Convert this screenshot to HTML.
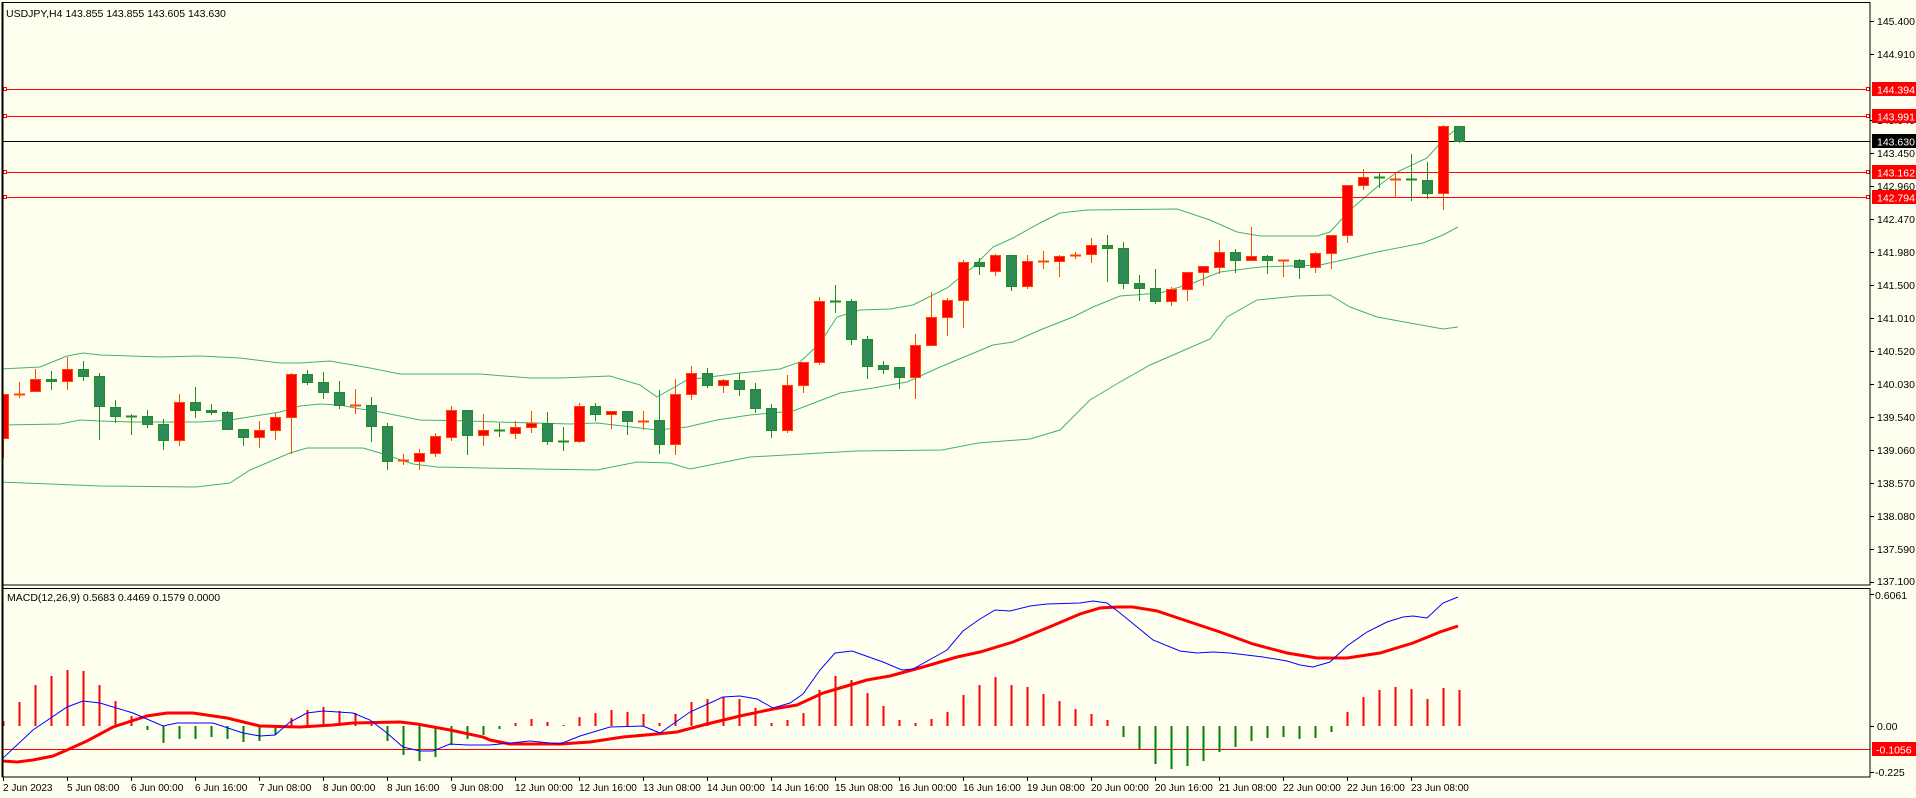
<!DOCTYPE html>
<html><head><meta charset="utf-8"><style>
html,body{margin:0;padding:0;background:#FFFFF0;}
svg{display:block;font-family:"Liberation Sans","DejaVu Sans",sans-serif;font-size:11px;}
.ax{font-size:10.5px;}
.tm{font-size:10px;}
</style></head><body>
<svg id="s" width="1916" height="798" viewBox="0 0 1916 798" xmlns="http://www.w3.org/2000/svg">
<rect x="0" y="0" width="1916" height="798" fill="#FFFFF0"/>
<defs><clipPath id="cm"><rect x="3" y="3" width="1867" height="582"/></clipPath>
<clipPath id="cd"><rect x="3" y="589" width="1867" height="188"/></clipPath></defs>
<g id="main" clip-path="url(#cm)">
<polyline fill="none" stroke="#3CB371" stroke-width="1" points="0,369 40,367 67,356 83,353 100,355 160,357 200,356 240,358 280,363 300,363 330,361 370,368 400,374 480,374 530,378 560,378 610,376 640,385 657,397 687,380 740,373 780,369 800,362 820,343 837,317 860,310 890,309 913,305 947,288 973,267 993,247 1013,238 1040,223 1060,213 1087,210 1177,209 1210,220 1237,232 1260,236 1317,236 1330,232 1350,210 1377,187 1397,172 1427,158 1443,140 1460,126"/>
<polyline fill="none" stroke="#3CB371" stroke-width="1" points="0,425 60,424 80,420 100,421 130,422 200,422 230,420 280,412 300,406 320,404 340,405 360,409 370,410 420,420 470,421 497,422 570,424 597,423 657,430 687,427 717,420 750,415 793,411 840,393 873,388 907,382 940,367 993,345 1013,342 1040,330 1073,317 1093,307 1120,296 1160,293 1193,283 1220,272 1260,267 1320,265 1343,260 1377,252 1423,243 1443,235 1458,227"/>
<polyline fill="none" stroke="#3CB371" stroke-width="1" points="0,482 100,486 196,487 230,483 250,470 290,453 307,448 363,448 380,453 413,464 437,467 537,469 597,470 637,462 670,463 690,469 750,457 856,451 942,450 978,443 1030,439 1060,430 1090,400 1120,382 1150,365 1180,352 1210,339 1227,317 1257,300 1297,296 1330,295 1350,307 1377,317 1410,323 1443,329 1458,327"/>
</g>
<g stroke-width="1" fill="none">
<line x1="3" y1="89.5" x2="1870" y2="89.5" stroke="#FF0000"/>
<line x1="3" y1="116.5" x2="1870" y2="116.5" stroke="#FF0000"/>
<line x1="3" y1="141.5" x2="1870" y2="141.5" stroke="#000"/>
<line x1="3" y1="172.5" x2="1870" y2="172.5" stroke="#FF0000"/>
<line x1="3" y1="197.5" x2="1870" y2="197.5" stroke="#FF0000"/>
<rect x="3.5" y="87.5" width="3" height="3" stroke="#FF0000" fill="#FFFFF0"/>
<rect x="3.5" y="114.5" width="3" height="3" stroke="#FF0000" fill="#FFFFF0"/>
<rect x="3.5" y="170.5" width="3" height="3" stroke="#FF0000" fill="#FFFFF0"/>
<rect x="3.5" y="195.5" width="3" height="3" stroke="#FF0000" fill="#FFFFF0"/>
<rect x="1866.5" y="87.5" width="3" height="3" stroke="#FF0000" fill="#FFFFF0"/>
<rect x="1866.5" y="114.5" width="3" height="3" stroke="#FF0000" fill="#FFFFF0"/>
<rect x="1866.5" y="170.5" width="3" height="3" stroke="#FF0000" fill="#FFFFF0"/>
<rect x="1866.5" y="195.5" width="3" height="3" stroke="#FF0000" fill="#FFFFF0"/>
</g>
<g id="cand" clip-path="url(#cm)"></g>
<g clip-path="url(#cd)">
<line x1="3" y1="749.5" x2="1870" y2="749.5" stroke="#FF0000" stroke-width="1"/>
<g id="hist"></g>
<polyline fill="none" stroke="#FF0000" stroke-width="3" points="3,761 17,762 33,760 53,756 67,750 87,741 113,727 147,716 167,713 193,713 227,718 260,726 300,727 333,725 353,723 400,722 417,724 450,730 483,737 490,740 510,744 560,744 590,742 623,737 657,734 677,732 707,724 740,716 773,709 797,705 823,693 850,685 867,680 890,676 923,667 957,657 980,652 1013,642 1047,628 1080,614 1100,608 1117,607 1133,607 1157,611 1187,621 1220,632 1253,644 1287,653 1317,658 1347,658 1380,653 1413,643 1440,632 1458,626"/>
<polyline fill="none" stroke="#0000FF" stroke-width="1" points="3,758 33,730 67,707 83,701 100,703 133,713 163,726 177,723 213,723 243,733 260,736 275,735 290,722 307,713 323,711 353,713 370,720 387,733 403,747 420,751 433,751 450,744 467,745 490,745 530,741 560,744 580,736 610,727 643,726 660,733 690,712 723,697 740,696 757,699 773,708 790,703 803,694 820,670 835,653 852,651 883,662 902,670 913,669 947,650 963,631 980,619 995,610 1010,611 1030,606 1047,604 1080,603 1093,601 1107,603 1120,613 1153,640 1180,651 1197,653 1213,652 1230,653 1263,657 1287,661 1300,665 1313,667 1330,662 1347,646 1367,632 1387,622 1403,617 1413,616 1427,618 1443,603 1458,597"/>
</g>
<g fill="none" stroke="#000" stroke-width="1">
<rect x="2.5" y="2.5" width="1867.5" height="582.5"/>
<rect x="2.5" y="588.5" width="1867.5" height="188.5"/>
<line x1="2.5" y1="2" x2="2.5" y2="777" stroke-width="2"/>
</g>
<g id="ticks" stroke="#000" stroke-width="1"></g>
<text x="6" y="17" fill="#000" class="ax">USDJPY,H4  143.855 143.855 143.605 143.630</text>
<text x="7" y="601" fill="#000" class="ax">MACD(12,26,9) 0.5683 0.4469 0.1579 0.0000</text>
<g fill="#000" class="ax">
<text x="1877" y="25">145.400</text>
<text x="1877" y="58">144.910</text>
<text x="1877" y="124">143.940</text>
<text x="1877" y="157">143.450</text>
<text x="1877" y="190">142.960</text>
<text x="1877" y="223">142.470</text>
<text x="1877" y="256">141.980</text>
<text x="1877" y="289">141.500</text>
<text x="1877" y="322">141.010</text>
<text x="1877" y="355">140.520</text>
<text x="1877" y="388">140.030</text>
<text x="1877" y="421">139.540</text>
<text x="1877" y="454">139.060</text>
<text x="1877" y="487">138.570</text>
<text x="1877" y="520">138.080</text>
<text x="1877" y="553">137.590</text>
<text x="1877" y="585">137.100</text>
<text x="1875" y="599">0.6061</text>
<text x="1877" y="730">0.00</text>
<text x="1875" y="776">-0.225</text>
</g>
<g class="ax">
<rect x="1872" y="82" width="44" height="14" fill="#FF0000"/><text x="1877" y="93.5" fill="#fff">144.394</text>
<rect x="1872" y="109" width="44" height="14" fill="#FF0000"/><text x="1877" y="120.5" fill="#fff">143.991</text>
<rect x="1872" y="134" width="44" height="14" fill="#000"/><text x="1877" y="145.5" fill="#fff">143.630</text>
<rect x="1872" y="165" width="44" height="14" fill="#FF0000"/><text x="1877" y="176.5" fill="#fff">143.162</text>
<rect x="1872" y="190" width="44" height="14" fill="#FF0000"/><text x="1877" y="201.5" fill="#fff">142.794</text>
<rect x="1872" y="742" width="44" height="14" fill="#FF0000"/><text x="1876" y="753.5" fill="#fff">-0.1056</text>
</g>
<g fill="#000" class="tm">
<text x="3" y="791">2 Jun 2023</text>
<text x="67" y="791">5 Jun 08:00</text>
<text x="131" y="791">6 Jun 00:00</text>
<text x="195" y="791">6 Jun 16:00</text>
<text x="259" y="791">7 Jun 08:00</text>
<text x="323" y="791">8 Jun 00:00</text>
<text x="387" y="791">8 Jun 16:00</text>
<text x="451" y="791">9 Jun 08:00</text>
<text x="515" y="791">12 Jun 00:00</text>
<text x="579" y="791">12 Jun 16:00</text>
<text x="643" y="791">13 Jun 08:00</text>
<text x="707" y="791">14 Jun 00:00</text>
<text x="771" y="791">14 Jun 16:00</text>
<text x="835" y="791">15 Jun 08:00</text>
<text x="899" y="791">16 Jun 00:00</text>
<text x="963" y="791">16 Jun 16:00</text>
<text x="1027" y="791">19 Jun 08:00</text>
<text x="1091" y="791">20 Jun 00:00</text>
<text x="1155" y="791">20 Jun 16:00</text>
<text x="1219" y="791">21 Jun 08:00</text>
<text x="1283" y="791">22 Jun 00:00</text>
<text x="1347" y="791">22 Jun 16:00</text>
<text x="1411" y="791">23 Jun 08:00</text>
</g>
</svg>
<script>
(function(){
var NS="http://www.w3.org/2000/svg";
function el(p,t,a){var e=document.createElementNS(NS,t);for(var k in a)e.setAttribute(k,a[k]);p.appendChild(e);return e;}
var D=[[394,438,394,457,'R'],[394,394,382,397,'R'],[379,391,369,391,'R'],[379,381,371,389,'G'],[369,381,357,389,'R'],[369,376,361,380,'G'],[376,406,373,439,'G'],[407,416,400,422,'G'],[416,416,414,434,'G'],[416,424,410,427,'G'],[424,440,419,449,'G'],[402,440,394,445,'R'],[402,410,387,417,'G'],[410,412,404,414,'G'],[412,429,411,429,'G'],[429,437,429,445,'G'],[430,437,421,447,'R'],[417,430,413,439,'R'],[374,417,373,453,'R'],[374,382,370,384,'G'],[382,392,372,398,'G'],[392,405,381,408,'G'],[405,405,389,413,'R'],[405,426,397,441,'G'],[426,461,423,469,'G'],[460,460,454,464,'R'],[453,461,449,469,'R'],[436,453,433,456,'R'],[410,437,406,440,'R'],[410,435,410,454,'G'],[430,435,414,445,'R'],[430,431,423,436,'G'],[427,433,421,438,'R'],[423,427,411,432,'R'],[423,441,412,444,'G'],[441,441,427,450,'G'],[406,441,403,442,'R'],[406,414,403,420,'G'],[411,414,411,428,'R'],[411,421,411,434,'G'],[421,421,411,429,'R'],[420,444,390,453,'G'],[394,444,379,454,'R'],[373,394,366,399,'R'],[373,385,368,387,'G'],[380,385,379,392,'R'],[380,389,373,395,'G'],[389,408,383,412,'G'],[408,430,404,437,'G'],[385,430,375,432,'R'],[362,385,362,392,'R'],[301,362,297,364,'R'],[301,301,285,312,'G'],[301,339,299,344,'G'],[339,366,336,378,'G'],[365,369,361,373,'G'],[367,377,367,388,'G'],[345,377,334,398,'R'],[317,345,292,345,'R'],[300,317,298,335,'R'],[262,300,260,327,'R'],[262,266,258,274,'G'],[255,271,254,275,'R'],[255,286,255,290,'G'],[261,286,255,288,'R'],[261,261,251,268,'R'],[256,261,255,276,'R'],[255,256,252,258,'R'],[245,254,238,262,'R'],[245,248,235,281,'G'],[248,283,242,288,'G'],[283,288,275,300,'G'],[288,301,269,303,'G'],[289,301,287,305,'R'],[272,289,272,300,'R'],[266,272,266,285,'R'],[252,267,240,273,'R'],[252,260,249,272,'G'],[256,260,227,260,'R'],[256,260,255,273,'G'],[260,260,260,276,'R'],[260,267,259,278,'G'],[253,267,252,272,'R'],[235,253,235,268,'R'],[185,235,185,242,'R'],[177,185,169,189,'R'],[177,178,172,187,'G'],[179,179,173,197,'R'],[179,180,154,200,'G'],[180,193,162,198,'G'],[126,193,125,209,'R'],[126,141,126,142,'G']];
var g=document.getElementById('cand');
for(var i=0;i<D.length;i++){var d=D[i],cx=3+16*i,r=d[4]=='R';
var line=r?'#FF4500':'#228B22',fill=r?'#FF0000':'#2E8B57';
el(g,'line',{x1:cx+0.5,y1:d[2],x2:cx+0.5,y2:d[3]+1,stroke:line,'stroke-width':1});
if(d[1]-d[0]<2){el(g,'line',{x1:cx-5,y1:d[0]+0.5,x2:cx+6,y2:d[0]+0.5,stroke:line,'stroke-width':2});}
else el(g,'rect',{x:cx-4.5,y:d[0]+0.5,width:10,height:d[1]-d[0],fill:fill,stroke:line,'stroke-width':1});}
var H=[721,702,685,676,670,671,685,701,716,730,743,739,739,737,739,742,741,735,718,710,707,711,713,722,741,755,761,757,745,739,735,729,723,719,722,725,717,713,710,712,714,723,714,702,699,697,699,708,723,720,713,690,676,680,693,706,720,723,719,712,695,685,677,685,687,694,701,709,714,720,737,749,764,769,766,761,752,747,741,738,737,739,738,732,712,697,690,687,689,699,688,690];
var h=document.getElementById('hist');
for(var j=0;j<H.length;j++){var x=3+16*j-0.5,v=H[j];
if(v<726)el(h,'rect',{x:x,y:v,width:2,height:726-v,fill:'#FF0000'});
else el(h,'rect',{x:x,y:726,width:2,height:Math.max(v-726,2),fill:'#008000'});}
var t=document.getElementById('ticks');
var py=[21,54,120,153,186,219,252,285,318,351,384,417,450,483,516,549,582,594,726,772];
for(var k=0;k<py.length;k++)el(t,'line',{x1:1870,y1:py[k]+0.5,x2:1874,y2:py[k]+0.5});
for(var m=0;m<23;m++){var tx=3+64*m+0.5;el(t,'line',{x1:tx,y1:777,x2:tx,y2:781});}
})();
</script>
</body></html>
